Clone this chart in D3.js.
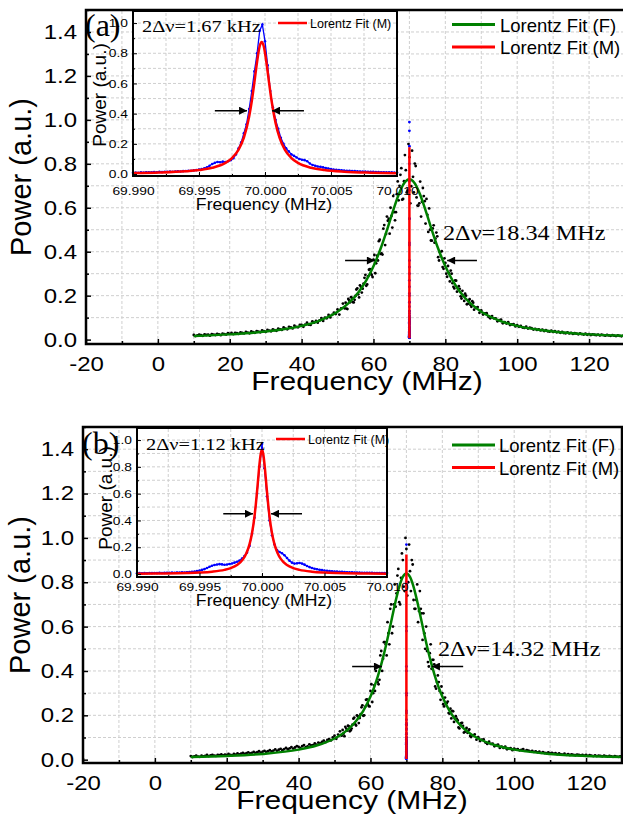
<!DOCTYPE html>
<html lang="en">
<head>
<meta charset="UTF-8">
<script src="https://d3js.org/d3.v7.min.js"></script>
<title>Lorentz fit spectra</title>
<style>
  body { margin: 0; background: #fff; }
</style>
</head>
<body>
<div id="chart"></div>
<script>
// ---------- data ----------
// beat spectra of the laser (F), sampled from 10 MHz every 0.5 MHz
const freqStart = 10, freqStep = 0.5;
const powerA = [
  .021,.016,.019,.023,.020,.017,.024,.021,.022,.018,.025,.023,.021,.026,.024,.020,.027,.025,.023,.029, // 10
  .026,.030,.025,.031,.029,.026,.033,.030,.028,.035,.032,.029,.037,.034,.031,.039,.036,.033,.042,.038, // 20
  .035,.044,.041,.038,.047,.043,.040,.050,.047,.044,.055,.050,.047,.058,.055,.051,.063,.058,.056,.067, // 30
  .067,.058,.068,.077,.068,.067,.083,.077,.085,.077,.087,.098,.085,.100,.097,.112,.101,.113,.123,.116, // 40
  .137,.114,.142,.164,.142,.141,.185,.170,.190,.169,.199,.233,.192,.240,.232,.281,.245,.288,.321,.294, // 50
  .364,.302,.382,.448,.390,.387,.521,.481,.541,.482,.563,.653,.543,.662,.634,.750,.637,.721,.771,.678, // 60
  .830,.698,.741,.801,.647,.610,.719,.627,.653,.528,.568,.597,.451,.506,.441,.487,.375,.398,.402,.322, // 70
  .349,.286,.304,.314,.257,.233,.268,.231,.231,.187,.200,.209,.161,.178,.158,.175,.136,.145,.148,.122, // 80
  .133,.114,.119,.120,.104,.097,.107,.097,.097,.083,.088,.091,.074,.080,.073,.079,.066,.069,.070,.060, // 90
  .066,.058,.062,.055,.053,.059,.050,.054,.052,.046,.049,.044,.047,.042,.045,.039,.043,.038,.036,.041, // 100
  .035,.038,.033,.036,.031,.035,.030,.029,.033,.028,.031,.026,.029,.027,.024,.028,.025,.023,.027,.022, // 110
  .025,.021,.024,.022,.020,.023,.019,.022,.020,.018,.021,.019,.017,.020,.018,.016,.019,.017,.015,.018, // 120
  .016
];
const powerB = [
  .016,.012,.015,.018,.014,.013,.018,.015,.017,.021,.016,.019,.022,.018,.017,.022,.020,.024,.019,.023, // 10
  .021,.026,.022,.020,.026,.023,.028,.024,.027,.031,.026,.029,.033,.028,.031,.035,.030,.034,.038,.032, // 20
  .036,.040,.035,.038,.043,.037,.041,.046,.040,.045,.049,.043,.048,.053,.047,.051,.057,.050,.055,.061, // 30
  .058,.052,.061,.066,.057,.060,.069,.064,.066,.073,.068,.077,.073,.080,.086,.079,.089,.093,.087,.100, // 40
  .108,.094,.113,.128,.108,.117,.148,.131,.150,.133,.158,.190,.154,.195,.188,.236,.198,.238,.272,.242, // 50
  .310,.260,.335,.400,.350,.360,.490,.455,.530,.470,.570,.680,.570,.700,.690,.830,.710,.820,.900,.760, // 60
  .950,.800,.850,.900,.720,.680,.790,.670,.680,.540,.570,.600,.440,.480,.410,.450,.330,.350,.350,.270, // 70
  .300,.240,.255,.262,.208,.186,.218,.185,.185,.145,.157,.166,.122,.138,.121,.136,.102,.110,.114,.090, // 80
  .101,.084,.090,.091,.077,.071,.081,.071,.072,.060,.065,.068,.053,.059,.053,.059,.047,.050,.052,.043, // 90
  .050,.045,.047,.042,.044,.048,.040,.043,.041,.036,.039,.035,.037,.033,.036,.031,.034,.030,.029,.033, // 100
  .028,.031,.027,.029,.025,.028,.024,.023,.027,.022,.025,.021,.024,.022,.020,.023,.021,.019,.022,.018, // 110
  .021,.017,.020,.018,.016,.019,.016,.018,.017,.015,.018,.016,.014,.017,.015,.013,.016,.014,.013,.015, // 120
  .014
];
// extra samples around the peak, from 52.25 MHz every 0.5 MHz
const peakStart = 52.25;
const peakA = [
  .168,.139,.178,.193,.171,.181,.228,.206,.247,.214,.255,.295,.251,.318,.300,.285,.385,.347,.360,.455,
  .392,.505,.430,.560,.550,.600,.510,.580,.580,.720,.700,.780,.640,.840,.670,.890,.620,.860,.670,.790,
  .610,.620,.560,.690,.630,.640,.490,.500,.450,.520,.460,.470,.360,.380,.330,.370,.300,.335,.265,.300,
  .240,.270,.218,.243,.197,.222,.176,.200,.163,.184,.149,.168
];
const peakB = [
  .134,.106,.140,.153,.128,.140,.185,.160,.200,.165,.205,.245,.200,.270,.250,.240,.340,.300,.310,.420,
  .340,.470,.400,.530,.520,.620,.520,.700,.600,.790,.750,.860,.700,.930,.780,1.00,.740,.970,.760,.880,
  .680,.720,.620,.760,.660,.660,.500,.490,.420,.520,.450,.430,.320,.380,.310,.330,.250,.280,.255,.210,
  .230,.220,.170,.196,.178,.141,.165,.152,.125,.143,.131,.107
];
// Lorentz fit (F)
const fitFreqA = [10,20,30,40,45,50,53,56,58,60,62,64,65,66,67,68,69,70,71,72,73,74,75,76,78,80,82,84,87,90,95,100,110,120,130];
const fitPowerA = [.0167,.0238,.0364,.0624,.0866,.1268,.1645,.2192,.2691,.3335,.4145,.5112,.5627,.6133,.6594,.6968,.7214,.730,
  .7214,.6968,.6594,.6133,.5627,.5112,.4145,.3335,.2691,.2192,.1645,.1268,.0866,.0624,.0364,.0238,.0167];
const fitFreqB = [10,20,30,40,45,50,52,54,56,58,60,61,62,63,64,65,66,67,68,69,70,
  71,72,73,74,75,76,77,78,79,80,82,84,86,88,90,95,100,110,120,130];
const fitPowerB = [.0118,.0169,.0261,.0453,.0636,.0955,.1148,.1402,.1743,.2205,.2847,.3256,.3737,.4295,.4935,.5645,.6402,.7146,.7792,.824,.840,
  .824,.7792,.7146,.6402,.5645,.4935,.4295,.3737,.3256,.2847,.2205,.1743,.1402,.1148,.0955,.0636,.0453,.0261,.0169,.0118];

// zoomed spectra (M), kHz offset from 70 MHz, from -10 kHz every 0.2 kHz
const khzStart = -10, khzStep = 0.2;
const blueA = [
  .008,.010,.009,.011,.010,.012,.011,.012,.013,.012,
  .014,.013,.015,.014,.016,.015,.017,.018,.017,.019,
  .020,.022,.021,.024,.026,.029,.033,.038,.045,.055,
  .066,.074,.080,.078,.082,.079,.085,.092,.105,.130,
  .170,.210,.270,.330,.430,.550,.680,.800,.950,.990,
  .880,.720,.550,.440,.360,.300,.240,.200,.170,.150,
  .130,.120,.110,.100,.095,.092,.085,.070,.060,.055,
  .050,.048,.044,.040,.037,.033,.030,.028,.026,.025,
  .023,.022,.021,.020,.019,.018,.017,.016,.016,.015,
  .014,.014,.013,.013,.012,.012,.011,.011,.011,.010,
  .010
];
const blueB = [
  .006,.007,.005,.007,.006,.008,.007,.008,.007,.009,
  .008,.009,.010,.009,.011,.010,.012,.011,.013,.012,
  .014,.015,.017,.019,.022,.026,.031,.037,.045,.054,
  .062,.068,.071,.074,.072,.069,.071,.075,.079,.085,
  .092,.100,.115,.135,.160,.210,.300,.420,.600,.800,
  .970,.790,.580,.400,.290,.220,.180,.165,.155,.140,
  .120,.100,.085,.078,.080,.083,.078,.070,.060,.052,
  .045,.040,.036,.032,.029,.026,.024,.022,.020,.019,
  .018,.017,.016,.015,.014,.013,.013,.012,.011,.011,
  .010,.010,.009,.009,.009,.008,.008,.008,.007,.007,
  .007
];
// Lorentz fit (M)
const fitKhzA = [-10,-8,-6,-5,-4,-3,-2.5,-2,-1.6,-1.2,-1,-.8,-.6,-.4,-.25,-.1,.1,.3,.5,.8,1.1,1.5,2,2.5,3.5,4.5,6,8,10];
const fitMA = [.0064,.010,.0181,.0262,.0413,.0738,.106,.162,.242,.381,.484,.61,.744,.848,.875,.848,.744,.61,.484,.339,.242,.162,.106,.0738,.0413,.0262,.0153,.0089,.0058];
const fitKhzB = [-10,-8,-6,-5,-4,-3,-2.5,-2,-1.5,-1.25,-1,-.8,-.6,-.5,-.4,-.3,-.2,-.1,0,.1,.2,.3,.4,.5,.6,.8,1,1.25,1.5,2,2.5,3,4,5,6,8,10];
const fitMB = [.0029,.0045,.008,.0115,.0178,.0311,.0442,.0672,.113,.155,.221,.304,.431,.515,.613,.719,.82,.896,.925,
  .896,.82,.719,.613,.515,.431,.304,.221,.155,.113,.0672,.0442,.0311,.0178,.0115,.008,.0045,.0029];

// linewidth arrows: [from, to, level]
const arrowsA = [[52.1, 60.4, 0.36], [88.8, 80.5, 0.36]];
const arrowsB = [[54.9, 63.2, 0.42], [85.8, 77.1, 0.42]];
const insetArrowsA = [[-3.8, -1.36, 0.42], [2.95, 0.53, 0.42]];   // kHz
const insetArrowsB = [[-3.1, -0.72, 0.45], [3.2, 0.72, 0.45]];

const xTicks = [-20, 0, 20, 40, 60, 80, 100, 120];
const xMinor = [-10, 10, 30, 50, 70, 90, 110, 130];
const yTicks = [0, 0.2, 0.4, 0.6, 0.8, 1.0, 1.2, 1.4];
const yMinor = [0.1, 0.3, 0.5, 0.7, 0.9, 1.1, 1.3, 1.5];
const insetXTicks = [69.990, 69.995, 70.000, 70.005, 70.010];
const insetXMinor = [69.9925, 69.9975, 70.0025, 70.0075];
const insetYTicks = [0, 0.2, 0.4, 0.6, 0.8, 1.0];
const insetYMinor = [0.1, 0.3, 0.5, 0.7, 0.9];

const legendNames = ["Lorentz Fit (F)", "Lorentz Fit (M)"];

// ---------- drawing ----------
const SANS = "'Liberation Sans', Arial, sans-serif";
const SERIF = "'Liberation Serif', 'Times New Roman', serif";
const GREEN = "#008000", RED = "#ff0000", BLUE = "#0000ff";

const svg = d3.select("#chart").append("svg")
    .attr("width", 623).attr("height", 823);

svg.append("defs").append("marker")
    .attr("id", "arr").attr("viewBox", "0 0 10 10")
    .attr("refX", 10).attr("refY", 5)
    .attr("markerWidth", 10).attr("markerHeight", 8)
    .attr("markerUnits", "userSpaceOnUse").attr("orient", "auto")
  .append("path").attr("d", "M0,0L10,5L0,10z").attr("fill", "#000");

function label(g, str, x, y, o) {
    return g.append("text")
        .attr("transform", `translate(${x},${y})` + (o.rot ? ` rotate(${o.rot})` : "") + ` scale(${o.sx || 1},1)`)
        .attr("text-anchor", o.anchor || "start")
        .style("font-family", o.family || SANS)
        .style("font-size", o.size + "px")
        .attr("fill", "#000")
        .text(str);
}

function grid(g, x, y, xs, ys) {
    const [x0, x1] = x.range(), [y0, y1] = y.range();
    g.append("g").selectAll("line").data(xs).join("line")
        .attr("x1", d => x(d)).attr("x2", d => x(d)).attr("y1", y0).attr("y2", y1)
        .attr("stroke", "#cfcfcf").attr("stroke-dasharray", "3,2");
    g.append("g").selectAll("line").data(ys).join("line")
        .attr("y1", d => y(d)).attr("y2", d => y(d)).attr("x1", x0).attr("x2", x1)
        .attr("stroke", "#cfcfcf").attr("stroke-dasharray", "3,2");
}

function axes(g, x, y, o) {
    const bottom = y.range()[0], left = x.range()[0];
    const styleTicks = sel => {
        sel.select(".domain").remove();
        sel.selectAll("line").attr("stroke", "#000").attr("stroke-width", o.tw);
        sel.selectAll("text").attr("fill", "#000")
            .style("font-family", SANS).style("font-size", o.fs + "px")
            .attr("transform", `scale(${o.sx},1)`);
    };
    g.append("g").attr("transform", `translate(0,${bottom})`)
        .call(d3.axisBottom(x).tickValues(o.xTicks).tickSize(-o.major).tickPadding(o.xPad).tickFormat(o.fmtX))
        .call(styleTicks);
    g.append("g").attr("transform", `translate(0,${bottom})`)
        .call(d3.axisBottom(x).tickValues(o.xMinor).tickSize(-o.minor).tickFormat(""))
        .call(styleTicks);
    g.append("g").attr("transform", `translate(${left},0)`)
        .call(d3.axisLeft(y).tickValues(o.yTicks).tickSize(-o.major).tickPadding(o.yPad / o.sx).tickFormat(d => d.toFixed(1)))
        .call(styleTicks);
    g.append("g").attr("transform", `translate(${left},0)`)
        .call(d3.axisLeft(y).tickValues(o.yMinor).tickSize(-o.minor).tickFormat(""))
        .call(styleTicks);
}

function frame(g, x, y, w) {
    const [x0, x1] = x.range(), [y0, y1] = y.range();
    g.append("rect").attr("x", x0).attr("y", y1).attr("width", x1 - x0).attr("height", y0 - y1)
        .attr("fill", "none").attr("stroke", "#000").attr("stroke-width", w);
}

function arrows(g, x, y, list, toX) {
    g.append("g").selectAll("line").data(list).join("line")
        .attr("x1", d => x(toX(d[0]))).attr("x2", d => x(toX(d[1])))
        .attr("y1", d => y(d[2])).attr("y2", d => y(d[2]))
        .attr("stroke", "#000").attr("stroke-width", 1.5)
        .attr("marker-end", "url(#arr)");
}

const khzToMHz = u => 70 + u / 1000;

function drawPanel(p) {
    const g = svg.append("g");
    const x = d3.scaleLinear().domain([-20, 130]).range([p.left, p.right]);
    const y = d3.scaleLinear().domain(p.yDomain).range([p.bottom, p.top]);

    g.append("rect").attr("x", p.left).attr("y", p.top)
        .attr("width", p.right - p.left).attr("height", p.bottom - p.top).attr("fill", "#fff");
    grid(g, x, y, d3.range(-10, 121, 10), d3.range(1, 15).map(d => d / 10));

    // F: measured points and fit
    const pts = p.power.map((v, i) => [freqStart + i * freqStep, v])
        .concat(p.peak.map((v, i) => [peakStart + i * freqStep, v]));
    g.append("g").selectAll("circle").data(pts).join("circle")
        .attr("cx", d => x(d[0])).attr("cy", d => y(d[1])).attr("r", 1.4).attr("fill", "#000");
    const line = d3.line().x(d => x(d[0])).y(d => y(d[1])).curve(d3.curveMonotoneX);
    g.append("path").datum(p.fitFreq.map((f, i) => [f, p.fitPower[i]]))
        .attr("d", line).attr("fill", "none").attr("stroke", GREEN).attr("stroke-width", 2.5);

    // M: collapses onto 70 MHz at this scale
    g.append("g").selectAll("circle").data(p.blue).join("circle")
        .attr("cx", (d, i) => x(khzToMHz(khzStart + i * khzStep))).attr("cy", d => y(d))
        .attr("r", 1.4).attr("fill", BLUE);
    g.append("path").datum(p.fitKhz.map((u, i) => [khzToMHz(u), p.fitM[i]]))
        .attr("d", d3.line().x(d => x(d[0])).y(d => y(d[1])))
        .attr("fill", "none").attr("stroke", RED).attr("stroke-width", 2.5);

    axes(g, x, y, {xTicks, xMinor, yTicks, yMinor, major: 5, minor: 3, tw: 1.5, fs: 20, sx: 1.2,
        xPad: 13, yPad: 9, fmtX: d => String(d)});
    frame(g, x, y, 2.5);
    arrows(g, x, y, p.arrows, d => d);

    label(g, "Frequency (MHz)", p.xTitleX, p.bottom + 46, {size: 25, sx: 1.2, anchor: "middle"});
    label(g, "Power (a.u.)", p.yTitleX, (p.top + p.bottom) / 2, {size: 29, rot: -90, anchor: "middle"});
    label(g, p.width, p.widthX, p.widthY, {size: 22, sx: 1.1, family: SERIF});

    // legend
    [GREEN, RED].forEach((c, i) => {
        const ly = p.legendY + i * 22.5;
        g.append("line").attr("x1", 452).attr("x2", 495).attr("y1", ly).attr("y2", ly)
            .attr("stroke", c).attr("stroke-width", 3);
        label(g, legendNames[i], p.legendX, ly + 7, {size: 18.5});
    });

    // inset
    const ix = d3.scaleLinear().domain([69.990, 70.010]).range([p.inset.left, p.inset.right]);
    const iy = d3.scaleLinear().domain(p.inset.yDomain).range([p.inset.bottom, p.inset.top]);
    const ig = g.append("g");
    ig.append("rect").attr("x", p.inset.left).attr("y", p.inset.top)
        .attr("width", p.inset.right - p.inset.left).attr("height", p.inset.bottom - p.inset.top).attr("fill", "#fff");
    grid(ig, ix, iy, d3.range(1, 8).map(d => 69.990 + d * 0.0025), d3.range(1, 11).map(d => d / 10));

    const bluePts = p.blue.map((v, i) => [khzToMHz(khzStart + i * khzStep), v]);
    const iline = d3.line().x(d => ix(d[0])).y(d => iy(d[1]));
    ig.append("path").datum(bluePts).attr("d", iline)
        .attr("fill", "none").attr("stroke", BLUE).attr("stroke-width", 1.3);
    ig.append("g").selectAll("circle").data(bluePts).join("circle")
        .attr("cx", d => ix(d[0])).attr("cy", d => iy(d[1])).attr("r", 1.3).attr("fill", BLUE);
    ig.append("path").datum(p.fitKhz.map((u, i) => [khzToMHz(u), p.fitM[i]]))
        .attr("d", iline.curve(d3.curveMonotoneX))
        .attr("fill", "none").attr("stroke", RED).attr("stroke-width", 2.5);

    axes(ig, ix, iy, {xTicks: insetXTicks, xMinor: insetXMinor, yTicks: insetYTicks, yMinor: insetYMinor,
        major: 4, minor: 2, tw: 1, fs: 11.5, sx: 1.2, xPad: p.inset.xPad, yPad: 5, fmtX: d => d.toFixed(3)});
    frame(ig, ix, iy, 2);
    arrows(ig, ix, iy, p.insetArrows, khzToMHz);

    label(ig, "Frequency (MHz)", 264, p.inset.bottom + p.inset.titleGap, {size: 16.5, sx: 1.07, anchor: "middle"});
    label(ig, "Power (a.u.)", p.inset.yTitleX, p.inset.yTitleY, {size: 19, rot: -90, anchor: "middle"});
    label(ig, p.inset.width, p.inset.widthX, p.inset.widthY, {size: 17, sx: 1.2, family: SERIF});
    ig.append("line").attr("x1", p.inset.legX).attr("x2", p.inset.legX + 29)
        .attr("y1", p.inset.legY).attr("y2", p.inset.legY).attr("stroke", RED).attr("stroke-width", 2.5);
    label(ig, legendNames[1], p.inset.legX + 32, p.inset.legY + 4.5, {size: 12.5});

    label(g, p.tag, p.left - 1, p.tagY, {size: 32, family: SERIF});
}

drawPanel({
    left: 86, right: 625, top: 10, bottom: 344, yDomain: [-0.02, 1.5],
    power: powerA, peak: peakA, fitFreq: fitFreqA, fitPower: fitPowerA,
    blue: blueA, fitKhz: fitKhzA, fitM: fitMA, arrows: arrowsA, insetArrows: insetArrowsA,
    xTitleX: 367, yTitleX: 31, width: "2Δν=18.34 MHz", widthX: 443, widthY: 240,
    legendX: 500, legendY: 24.5, tag: "(a)", tagY: 36,
    inset: {left: 133, right: 397, top: 11, bottom: 176, yDomain: [-0.013, 1.08], xPad: 11, titleGap: 34,
        yTitleX: 106, yTitleY: 95, width: "2Δν=1.67 kHz", widthX: 142, widthY: 32, legX: 278, legY: 23}
});

drawPanel({
    left: 83, right: 622, top: 427, bottom: 763, yDomain: [-0.015, 1.5],
    power: powerB, peak: peakB, fitFreq: fitFreqB, fitPower: fitPowerB,
    blue: blueB, fitKhz: fitKhzB, fitM: fitMB, arrows: arrowsB, insetArrows: insetArrowsB,
    xTitleX: 352, yTitleX: 30, width: "2Δν=14.32 MHz", widthX: 438, widthY: 656,
    legendX: 499, legendY: 445, tag: "(b)", tagY: 454,
    inset: {left: 137, right: 387, top: 428, bottom: 577, yDomain: [-0.022, 1.09], xPad: 6, titleGap: 29,
        yTitleX: 112, yTitleY: 498, width: "2Δν=1.12 kHz", widthX: 146, widthY: 450, legX: 276, legY: 439}
});
</script>
</body>
</html>
